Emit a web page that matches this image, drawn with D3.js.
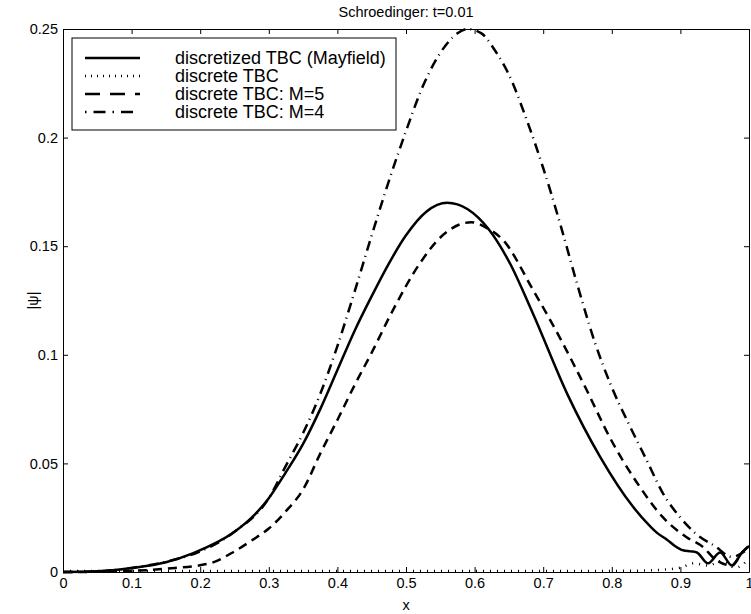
<!DOCTYPE html>
<html lang="en">
    <head>
        <meta charset="utf-8"/>
        <script src="https://d3js.org/d3.v7.min.js"></script>
        <style>
            body { margin: 0; background: #fff; }
            text { font-family: "Liberation Sans", Arial, Helvetica, sans-serif; fill: #000; }
        </style>
    </head>
    <body>
        <div id="chart"></div>
    </body>
    <script>
        // values
        var xTicks = [0, 0.1, 0.2, 0.3, 0.4, 0.5, 0.6, 0.7, 0.8, 0.9, 1];
        var yTicks = [0, 0.05, 0.1, 0.15, 0.2, 0.25];

        var seriesNames = ["discretized TBC (Mayfield)", "discrete TBC", "discrete TBC: M=5", "discrete TBC: M=4"];

        var xMayfield = [0, 0.05, 0.1, 0.15, 0.19, 0.25, 0.275, 0.3, 0.325, 0.35, 0.375, 0.4, 0.425, 0.45, 0.475, 0.5, 0.53, 0.56, 0.59, 0.62, 0.65, 0.685, 0.735, 0.783, 0.831, 0.856, 0.866, 0.88, 0.892, 0.904, 0.915, 0.924, 0.94, 0.958, 0.975, 0.99, 1];
        var yMayfield = [0, 0.0003, 0.0018, 0.0045, 0.0087, 0.0185, 0.025, 0.034, 0.046, 0.059, 0.075, 0.093, 0.111, 0.127, 0.142, 0.155, 0.166, 0.170, 0.167, 0.158, 0.143, 0.119, 0.082, 0.053, 0.030, 0.021, 0.018, 0.015, 0.012, 0.010, 0.0095, 0.009, 0.004, 0.009, 0.003, 0.009, 0.012];

        var xDiscrete = [0, 0.2, 0.4, 0.6, 0.8, 0.85, 0.88, 0.9, 0.92, 0.94, 0.96, 0.98, 1];
        var yDiscrete = [0.0005, 0.0005, 0.0005, 0.0005, 0.0005, 0.0007, 0.0012, 0.002, 0.004, 0.003, 0.005, 0.002, 0.006];

        var xM5 = [0, 0.05, 0.1, 0.15, 0.214, 0.25, 0.275, 0.3, 0.325, 0.35, 0.375, 0.4, 0.425, 0.45, 0.481, 0.52, 0.55, 0.595, 0.62, 0.641, 0.685, 0.724, 0.763, 0.797, 0.837, 0.875, 0.909, 0.933, 0.95, 0.975, 0.99, 1];
        var yM5 = [0, 0.0001, 0.0005, 0.0015, 0.004, 0.0095, 0.0145, 0.020, 0.028, 0.038, 0.0545, 0.070, 0.086, 0.101, 0.1206, 0.142, 0.154, 0.161, 0.158, 0.153, 0.130, 0.108, 0.084, 0.062, 0.041, 0.025, 0.016, 0.0115, 0.006, 0.003, 0.009, 0.012];

        var xM4 = [0, 0.05, 0.1, 0.15, 0.2, 0.25, 0.3, 0.325, 0.35, 0.375, 0.4, 0.425, 0.45, 0.475, 0.5, 0.525, 0.55, 0.575, 0.59, 0.61, 0.63, 0.65, 0.675, 0.7, 0.725, 0.75, 0.775, 0.8, 0.825, 0.85, 0.875, 0.9, 0.925, 0.95, 0.975, 1];
        var yM4 = [0, 0.0003, 0.0019, 0.0047, 0.0095, 0.0185, 0.034, 0.049, 0.064, 0.082, 0.104, 0.129, 0.155, 0.180, 0.203, 0.224, 0.239, 0.248, 0.250, 0.248, 0.240, 0.229, 0.209, 0.186, 0.160, 0.132, 0.106, 0.085, 0.068, 0.052, 0.036, 0.025, 0.017, 0.012, 0.007, 0.011];

        var margin = {top: 29, right: 2, bottom: 42, left: 63};
        var width = 751 - margin.left - margin.right;
        var height = 614 - margin.top - margin.bottom;

        var svg = d3.select("#chart")
            .append("svg")
                .attr("width", 751)
                .attr("height", 614)
            .append("g")
                .attr("transform", "translate(" + margin.left + "," + margin.top + ")");

        var x = d3.scaleLinear().domain([0, 1]).range([0, width]);
        var y = d3.scaleLinear().domain([0, 0.25]).range([height, 0]);

        var styles = [
            {dash: null, legendDash: null},
            {dash: "1,6", legendDash: "1,5"},
            {dash: "9,6", legendDash: "15,10"},
            {dash: "10,5,1,5.5", legendDash: "1.5,7,12,7"}
        ];

        var series = [
            d3.zip(xMayfield, yMayfield),
            d3.zip(xDiscrete, yDiscrete),
            d3.zip(xM5, yM5),
            d3.zip(xM4, yM4)
        ];

        var line = d3.line()
            .x(function (d) { return x(d[0]); })
            .y(function (d) { return y(d[1]); })
            .curve(d3.curveMonotoneX);

        svg.selectAll(".curve")
            .data(series)
            .enter()
            .append("path")
                .attr("class", "curve")
                .attr("d", line)
                .attr("fill", "none")
                .attr("stroke", "#000")
                .attr("stroke-width", 2.5)
                .attr("stroke-dasharray", function (d, i) { return styles[i].dash; });

        // axes, MATLAB style: box with inward ticks
        svg.append("g")
            .attr("transform", "translate(0," + height + ")")
            .call(d3.axisBottom(x).tickValues(xTicks).tickFormat(function (d) { return String(d); })
                .tickSizeInner(-5).tickSizeOuter(0).tickPadding(6));
        svg.append("g")
            .call(d3.axisLeft(y).tickValues(yTicks).tickFormat(function (d) { return String(d); })
                .tickSizeInner(-5).tickSizeOuter(0).tickPadding(5));
        svg.append("g")
            .call(d3.axisTop(x).tickValues(xTicks).tickFormat("").tickSizeInner(-5).tickSizeOuter(0));
        svg.append("g")
            .attr("transform", "translate(" + width + ",0)")
            .call(d3.axisRight(y).tickValues(yTicks).tickFormat("").tickSizeInner(-5).tickSizeOuter(0));

        svg.selectAll(".domain, .tick line").attr("stroke", "#000").attr("stroke-width", 1);
        svg.selectAll(".tick text").style("font-size", "14.5px").attr("fill", "#000");

        svg.append("text")
            .attr("x", width / 2)
            .attr("y", -12)
            .attr("text-anchor", "middle")
            .style("font-size", "14.5px")
            .text("Schroedinger: t=0.01");

        svg.append("text")
            .attr("x", width / 2)
            .attr("y", height + 38)
            .attr("text-anchor", "middle")
            .style("font-size", "14.5px")
            .text("x");

        svg.append("text")
            .attr("transform", "translate(-25," + (height / 2) + ") rotate(-90)")
            .attr("text-anchor", "middle")
            .style("font-size", "14.5px")
            .text("|\u03c8|");

        // legend
        var legend = svg.append("g").attr("transform", "translate(9,9)");
        legend.append("rect")
            .attr("width", 324)
            .attr("height", 92)
            .attr("fill", "#fff")
            .attr("stroke", "#000")
            .attr("stroke-width", 1);

        var rows = legend.selectAll(".row")
            .data(seriesNames)
            .enter()
            .append("g")
                .attr("class", "row")
                .attr("transform", function (d, i) { return "translate(0," + (20 + i * 18) + ")"; });

        rows.append("line")
            .attr("x1", 13)
            .attr("x2", 68)
            .attr("stroke", "#000")
            .attr("stroke-width", 2.5)
            .attr("stroke-dasharray", function (d, i) { return styles[i].legendDash; });

        rows.append("text")
            .attr("x", 103)
            .attr("dy", "0.35em")
            .style("font-size", "18px")
            .text(function (d) { return d; });
    </script>
</html>
